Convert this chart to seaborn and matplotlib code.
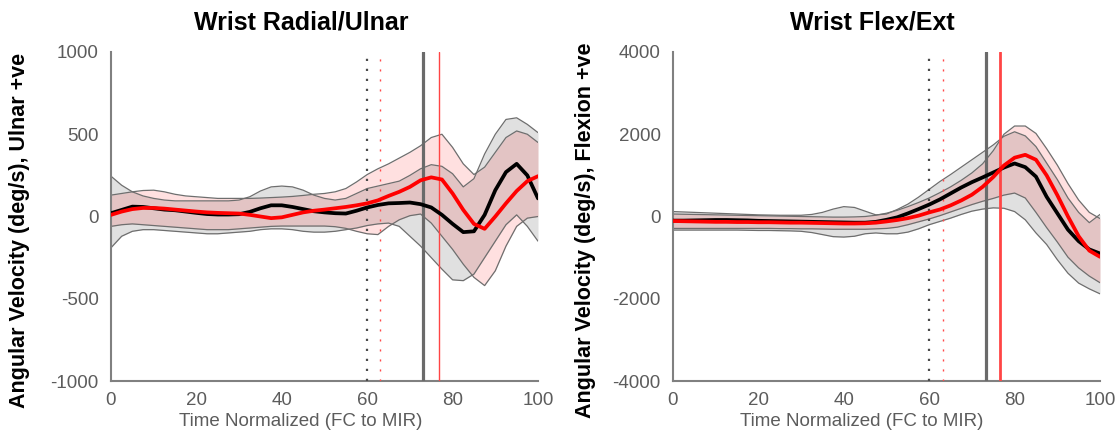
import numpy as np
import pandas as pd
import matplotlib
matplotlib.use("Agg")
import matplotlib.pyplot as plt
import seaborn as sns

# ---------------- data ----------------
time = np.linspace(0, 100, 41)

# Wrist Radial/Ulnar (deg/s)
ru_black_mean = [20, 40, 60, 58, 50, 42, 38, 30, 22, 15,
                 12, 12, 14, 28, 50, 68, 68, 58, 45, 32,
                 25, 20, 18, 35, 55, 70, 80, 82, 85, 75,
                 55, 10, -45, -95, -90, 10, 160, 270, 320, 250,
                 110]
ru_black_upper = [245, 190, 150, 125, 110, 100, 95, 95, 95, 95,
                  95, 95, 100, 120, 155, 180, 185, 180, 160, 130,
                  110, 100, 110, 140, 170, 185, 200, 215, 250, 290,
                  315, 305, 260, 180, 230, 380, 500, 590, 600, 560,
                  510]
ru_black_lower = [-190, -120, -90, -80, -80, -85, -90, -95, -100, -105,
                  -105, -100, -95, -90, -80, -75, -75, -80, -90, -95,
                  -95, -90, -80, -70, -55, -45, -40, -60, -120, -180,
                  -250, -320, -385, -390, -350, -250, -150, -50, 10, -60,
                  -150]
ru_red_mean = [10, 30, 45, 52, 52, 48, 42, 36, 30, 25,
               22, 20, 18, 10, 0, -10, -5, 10, 25, 35,
               42, 50, 58, 68, 80, 98, 125, 150, 180, 220,
               238, 225, 140, 40, -45, -75, 0, 80, 155, 215,
               245]
ru_red_upper = [130, 140, 150, 158, 160, 150, 135, 125, 120, 115,
                110, 110, 110, 110, 112, 115, 118, 122, 128, 135,
                140, 150, 170, 210, 255, 290, 320, 355, 390, 430,
                480, 500, 420, 320, 255, 300, 390, 480, 520, 500,
                450]
ru_red_lower = [-60, -50, -45, -50, -55, -60, -65, -70, -75, -80,
                -80, -80, -75, -70, -65, -60, -58, -58, -58, -58,
                -58, -62, -72, -90, -105, -110, -60, -20, 5, 15,
                -40, -120, -200, -290, -370, -420, -330, -180, -60, -10,
                0]
ru_events_black = [59.9, 73.0]   # dotted, solid
ru_events_red = [63.0, 76.7]

# Wrist Flex/Ext (deg/s)
fe_black_mean = [-100, -100, -95, -90, -85, -85, -90, -95, -105, -110,
                 -115, -120, -125, -130, -135, -140, -145, -150, -150, -130,
                 -80, -20, 75, 180, 290, 415, 560, 705, 835, 950,
                 1070, 1190, 1290, 1200, 970, 480, 80, -320, -600, -800,
                 -900]
fe_black_upper = [120, 110, 100, 90, 80, 70, 60, 50, 40, 35,
                  30, 30, 30, 50, 100, 180, 240, 220, 130, 40,
                  60, 170, 300, 470, 660, 850, 1020, 1200, 1380, 1560,
                  1740, 1950, 2060, 1960, 1700, 1300, 900, 450, 100, -150,
                  50]
fe_black_lower = [-330, -330, -330, -330, -330, -330, -330, -335, -340, -340,
                  -345, -350, -360, -390, -440, -490, -500, -480, -420, -400,
                  -420, -420, -380, -300, -200, -120, -40, 50, 130, 180,
                  210, 200, 120, -80, -400, -680, -1050, -1380, -1620, -1760,
                  -1880]
fe_red_mean = [-110, -115, -120, -125, -130, -130, -135, -135, -140, -140,
               -145, -150, -150, -155, -160, -165, -170, -170, -165, -150,
               -120, -85, -40, 20, 100, 170, 270, 390, 530, 720,
               960, 1240, 1430, 1500, 1380, 1000, 520, 0, -480, -830,
               -980]
fe_red_upper = [60, 55, 50, 45, 40, 35, 30, 25, 20, 15,
                10, 5, 0, -5, -10, -15, -15, -10, 0, 30,
                80, 150, 240, 340, 450, 580, 720, 880, 1060, 1280,
                1600, 2000, 2200, 2200, 2020, 1650, 1250, 800, 400, 100,
                -50]
fe_red_lower = [-290, -290, -290, -290, -290, -290, -290, -290, -290, -290,
                -295, -295, -300, -300, -305, -310, -310, -310, -310, -300,
                -290, -260, -200, -130, -60, 20, 110, 200, 290, 370,
                440, 520, 570, 450, 100, -270, -620, -990, -1250, -1450,
                -1610]
fe_events_black = [60.0, 73.3]
fe_events_red = [63.2, 76.5]

ru_yticks = [-1000, -500, 0, 500, 1000]
fe_yticks = [-4000, -2000, 0, 2000, 4000]
xticks = [0, 20, 40, 60, 80, 100]

# ---------------- style ----------------
sns.set_style("white")
plt.rcParams['font.family'] = ['Liberation Sans', 'DejaVu Sans']
plt.rcParams['axes.unicode_minus'] = False

W, H = 1120, 442
fig = plt.figure(figsize=(W / 100, H / 100), dpi=100)
ax1 = fig.add_axes([111 / W, 1 - 381 / H, 427 / W, 329 / H])
ax2 = fig.add_axes([673 / W, 1 - 381 / H, 427 / W, 329 / H])

EDGE = '#6e6e6e'
SPINE = '#808080'
TICKTXT = '#5c5c5c'


def draw(ax, bm, bu, bl, rm, ru, rl, ev_b, ev_r, yticks, red_lw):
    ax.fill_between(time, bl, bu, color=(0, 0, 0), alpha=0.12, lw=0, zorder=1)
    ax.fill_between(time, rl, ru, color=(1, 0, 0), alpha=0.12, lw=0, zorder=1.1)
    for arr in (bu, bl, ru, rl):
        ax.plot(time, arr, color=EDGE, lw=0.9, zorder=2)
    ax.axvline(ev_b[0], color='#4a4a4a', lw=1.6, ls=(0, (1, 3.5)), zorder=3)
    ax.axvline(ev_r[0], color='#ff4a4a', lw=1.0, ls=(0, (1.5, 5.7)), zorder=3)
    ax.axvline(ev_b[1], color='#6a6a6a', lw=2.3, zorder=3)
    ax.axvline(ev_r[1], color='#ff4545', lw=red_lw, zorder=3)
    df = pd.DataFrame({
        'time': np.concatenate([time, time]),
        'value': np.concatenate([bm, rm]),
        'group': ['black'] * len(time) + ['red'] * len(time),
    })
    sns.lineplot(data=df, x='time', y='value', hue='group',
                 palette={'black': '#000000', 'red': '#ff0000'},
                 hue_order=['black', 'red'], lw=2.7, estimator=None,
                 sort=False, legend=False, ax=ax, zorder=4)
    ax.set_xlim(0, 100)
    ax.set_ylim(yticks[0], yticks[-1])
    ax.set_xticks(xticks)
    ax.set_yticks(yticks)
    ax.set_xlabel('')
    ax.set_ylabel('')
    sns.despine(ax=ax)
    for s in ('left', 'bottom'):
        ax.spines[s].set_color(SPINE)
        ax.spines[s].set_linewidth(1.5)
    ax.tick_params(direction='in', length=4, width=1, color=SPINE,
                   labelsize=13.5, labelcolor=TICKTXT)
    ax.tick_params(axis='y', pad=9)
    ax.tick_params(axis='x', pad=8)


draw(ax1, ru_black_mean, ru_black_upper, ru_black_lower,
     ru_red_mean, ru_red_upper, ru_red_lower,
     ru_events_black, ru_events_red, ru_yticks, 1.0)
draw(ax2, fe_black_mean, fe_black_upper, fe_black_lower,
     fe_red_mean, fe_red_upper, fe_red_lower,
     fe_events_black, fe_events_red, fe_yticks, 2.0)

# titles and labels
fig.text(301 / W, 1 - 23 / H, 'Wrist Radial/Ulnar', ha='center', va='center',
         fontsize=18, fontweight='bold', color='black')
fig.text(872 / W, 1 - 23 / H, 'Wrist Flex/Ext', ha='center', va='center',
         fontsize=18, fontweight='bold', color='black')
fig.text(20 / W, 1 - 230 / H, 'Angular Velocity (deg/s), Ulnar +ve', rotation=90,
         ha='center', va='center', fontsize=15.5, fontweight='bold', color='black')
fig.text(585 / W, 1 - 230 / H, 'Angular Velocity (deg/s), Flexion +ve', rotation=90,
         ha='center', va='center', fontsize=15.5, fontweight='bold', color='black')
fig.text(301 / W, 1 - 421 / H, 'Time Normalized (FC to MIR)', ha='center', va='center',
         fontsize=13.5, color=TICKTXT)
fig.text(862 / W, 1 - 421 / H, 'Time Normalized (FC to MIR)', ha='center', va='center',
         fontsize=13.5, color=TICKTXT)

fig.savefig('out.png', dpi=100)
